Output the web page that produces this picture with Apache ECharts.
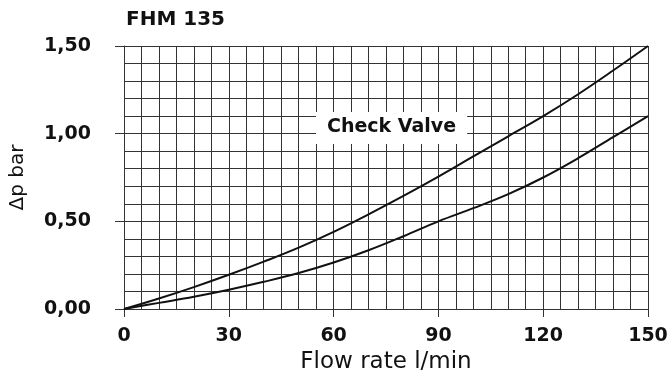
<!DOCTYPE html>
<html>
<head>
<meta charset="utf-8">
<script src="https://cdn.jsdelivr.net/npm/echarts@6/dist/echarts.min.js"></script>
<style>
  html, body { margin: 0; padding: 0; background: #fff; }
  #chart { width: 672px; height: 385px; }
</style>
</head>
<body>
<div id="chart"></div>
<script>
// Pressure drop over the FHM 135 check valve
const flowRate = [0, 10, 20, 30, 40, 50, 60, 70, 80, 90, 100, 110, 120, 130, 140, 150];
const dpUpper  = [0, 0.06, 0.125, 0.195, 0.27, 0.35, 0.44, 0.54, 0.645, 0.755, 0.87, 0.985, 1.10, 1.225, 1.36, 1.50];
const dpLower  = [0, 0.035, 0.07, 0.11, 0.155, 0.205, 0.265, 0.335, 0.415, 0.50, 0.575, 0.655, 0.75, 0.86, 0.98, 1.10];

const xTicks = [0, 30, 60, 90, 120, 150];
const yTicks = [0, 0.5, 1.0, 1.5];

const titleText = 'FHM 135';
const curveLabel = 'Check Valve';
const xName = 'Flow rate l/min';
const yName = '\u0394p bar';

const pair = (xs, ys) => xs.map((x, i) => [x, ys[i]]);
const FONT = '"DejaVu Sans", Verdana, sans-serif';
const INK = '#111';
const GRID = '#333';

const chart = echarts.init(document.getElementById('chart'), null, { renderer: 'canvas' });

chart.setOption({
  animation: false,
  backgroundColor: '#fff',
  title: [
    {
      text: titleText, left: 121, top: 5,
      textStyle: { fontFamily: FONT, fontWeight: 'bold', fontSize: 20, color: INK }
    },
    {
      text: curveLabel, left: 316, top: 112,
      padding: [6, 11, 7, 11],
      backgroundColor: '#fff',
      textStyle: { fontFamily: FONT, fontWeight: 'bold', fontSize: 19, color: INK }
    }
  ],
  grid: { left: 121, right: 24, top: 46, bottom: 76, containLabel: false },
  xAxis: [
    {
      // fine grid, every 5 l/min
      type: 'value', min: 0, max: 150, interval: 5,
      axisLine: { show: false }, axisTick: { show: false }, axisLabel: { show: false },
      splitLine: { show: true, lineStyle: { color: GRID, width: 1 } }
    },
    {
      type: 'value', min: 0, max: 150, interval: 30, position: 'bottom',
      name: xName, nameLocation: 'middle', nameGap: 41,
      nameTextStyle: { fontFamily: FONT, fontSize: 23, color: INK },
      axisLine: { show: true, onZero: false, lineStyle: { color: GRID, width: 1 } },
      axisTick: { show: true, length: 8, lineStyle: { color: GRID, width: 1 } },
      axisLabel: {
        margin: 18, fontFamily: FONT, fontWeight: 'bold', fontSize: 19, color: INK,
        formatter: v => xTicks.includes(v) ? String(v) : ''
      },
      splitLine: { show: false }
    }
  ],
  yAxis: [
    {
      // fine grid, every 0.1 bar
      type: 'value', min: 0, max: 1.5, interval: 0.1,
      axisLine: { show: false }, axisTick: { show: false }, axisLabel: { show: false },
      splitLine: { show: true, lineStyle: { color: GRID, width: 1 } }
    },
    {
      type: 'value', min: 0, max: 1.5, interval: 0.5, position: 'left',
      name: yName, nameLocation: 'middle', nameGap: 96, nameRotate: 90,
      nameTextStyle: { fontFamily: FONT, fontSize: 20, color: INK },
      axisLine: { show: true, onZero: false, lineStyle: { color: GRID, width: 1 } },
      axisTick: { show: true, length: 9, lineStyle: { color: GRID, width: 1 } },
      axisLabel: {
        margin: 33, fontFamily: FONT, fontWeight: 'bold', fontSize: 19, color: INK,
        formatter: v => yTicks.some(t => Math.abs(t - v) < 1e-9) ? v.toFixed(2).replace('.', ',') : ''
      },
      splitLine: { show: false }
    }
  ],
  series: [
    {
      type: 'line', xAxisIndex: 0, yAxisIndex: 0,
      data: pair(flowRate, dpUpper),
      smooth: 0.4, showSymbol: false, z: 3,
      lineStyle: { color: INK, width: 2 }
    },
    {
      type: 'line', xAxisIndex: 0, yAxisIndex: 0,
      data: pair(flowRate, dpLower),
      smooth: 0.4, showSymbol: false, z: 3,
      lineStyle: { color: INK, width: 2 }
    }
  ]
});
</script>
</body>
</html>
